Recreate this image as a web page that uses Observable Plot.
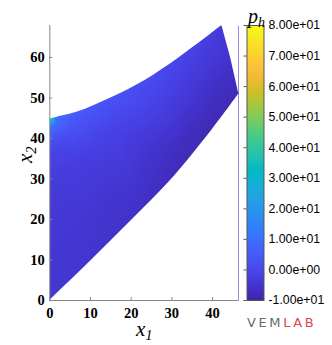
<!DOCTYPE html>
<html>
<head>
<meta charset="utf-8">
<script src="https://cdn.jsdelivr.net/npm/d3@7"></script>
<script src="https://cdn.jsdelivr.net/npm/@observablehq/plot@0.6"></script>
<style>
  html, body { margin: 0; padding: 0; background: #fff; }
  #wrap { position: relative; width: 332px; height: 345px; overflow: hidden; background: #fff; }
  #main { position: absolute; left: 0; top: 0; }
  #cbar { position: absolute; left: 240px; top: 0; }
  #logo { position: absolute; left: 247px; top: 316px; font: 13px "DejaVu Sans", "Liberation Sans", sans-serif; line-height: 13px; letter-spacing: 2.6px; white-space: nowrap; }
  #logo .g { color: #6a6a6a; }
  #logo .r { color: #e0464a; }
</style>
</head>
<body>
<div id="wrap">
  <div id="main"></div>
  <div id="cbar"></div>
  <div id="logo"><span class="g">VEM</span><span class="r">LAB</span></div>
</div>
<script>
// ---- Domain boundary ----
const topX = [0, 1.5, 7, 15, 23.5, 31.7, 38.3, 42.3];
const topY = [44.8, 45.2, 46.6, 50, 54.4, 59.9, 64.8, 67.9];
const rightX = [42.3, 44.5, 46.45];
const rightY = [67.9, 59.7, 51];
const bottomX = [0, 10, 20, 30, 40, 46.45];
const bottomY = [0, 9.7, 19.7, 30, 42.3, 51];

// ---- Field samples p_h ----
const sampleX = [0, 0, 0, 0, 0, 0, 0, 0, 1.5, 1.5, 7, 15, 23.5, 31.7, 38.3, 42.3, 44.5, 46.45,
                 10, 20, 30, 40, 8, 8, 15, 20, 28, 25, 35, 38, 40, 33, 5, 15, 22];
const sampleY = [0, 10, 20, 30, 37, 41, 43.5, 44.8, 45.2, 43.5, 46.6, 50, 54.4, 59.9, 64.8, 67.9, 59.7, 51,
                 9.7, 19.7, 30, 42.3, 20, 35, 42, 30, 45, 38, 50, 58, 50, 40, 42, 25, 48];
const sampleP = [-4.5, -4.5, -4, -3, -0.5, 5, 14, 42, 10, 9, 5, 3, 1.5, -0.5, -2, -3.5, -5.5, -8,
                 -5, -6, -7.5, -8.5, -4.5, -2.5, -1, -4.5, -3, -5, -4.5, -3.5, -7, -7, 2.5, -5, 0];

const xTicks = [0, 10, 20, 30, 40];
const yTicks = [0, 10, 20, 30, 40, 50, 60];
const cbTicks = [-10, 0, 10, 20, 30, 40, 50, 60, 70, 80];
const xDomain = [0, 46.45];
const yDomain = [0, 67.9];
const pDomain = [-10, 80];

// parula colormap stops
const PARULA = ["#3e26a8","#4332cb","#4741e5","#4852f4","#4563fd","#3875fe","#2e87f7","#2797eb",
  "#20a5e3","#12b1d6","#02bac3","#24c1ae","#37c897","#57cc7a","#81cc59","#abc739","#d1bf27",
  "#f0ba36","#fec338","#fad62d","#f5e924","#f9fb15"];
const colorScale = {type: "linear", domain: pDomain, interpolate: d3.piecewise(d3.interpolateRgb, PARULA), clamp: true};

const samples = sampleX.map((x, i) => ({x, y: sampleY[i], p: sampleP[i]}));
const topRows = topX.map((x, i) => ({x, y: topY[i]}));
const rightRows = rightX.map((x, i) => ({x, y: rightY[i]}));
const bottomRows = bottomX.map((x, i) => ({x, y: bottomY[i]}));

const serif = "'Liberation Serif', 'Times New Roman', 'DejaVu Serif', serif";

const main = Plot.plot({
  width: 240, height: 345,
  marginLeft: 49.3, marginRight: 1.7, marginTop: 25, marginBottom: 45,
  x: {domain: xDomain, label: null},
  y: {domain: yDomain, label: null},
  color: colorScale,
  style: {fontFamily: serif, fontWeight: "bold", fontSize: "14.5px", color: "black", background: "white"},
  marks: [
    Plot.raster(samples, {x: "x", y: "y", fill: "p", interpolate: "barycentric", pixelSize: 1}),
    Plot.areaY(topRows, {x: "x", y1: "y", y2: yDomain[1], fill: "white", curve: "catmull-rom"}),
    Plot.areaY(rightRows, {x: "x", y1: "y", y2: yDomain[1], fill: "white"}),
    Plot.areaY(bottomRows, {x: "x", y1: 0, y2: "y", fill: "white", curve: "catmull-rom"}),
    Plot.ruleX([0], {stroke: "#888"}),
    Plot.ruleY([0], {stroke: "#888"}),
    Plot.axisX({ticks: xTicks, tickSize: 3, dy: -3, tickPadding: 7, label: null}),
    Plot.axisY({ticks: yTicks, tickSize: 3, dx: 3, tickPadding: 5, label: null}),
    Plot.text(["x1"], {text: d => d, frameAnchor: "bottom", dy: 35, fontSize: 21, fontStyle: "italic", fontWeight: "normal", fontFamily: serif}),
    Plot.text(["x2"], {text: d => d, frameAnchor: "left", dx: -25, rotate: -90, fontSize: 21, fontStyle: "italic", fontWeight: "normal", fontFamily: serif})
  ]
});

const fmt = d => d.toExponential(2).replace(/e([+-])(\d)$/, (m, s, g) => "e" + s + "0" + g);

const cbar = Plot.plot({
  width: 92, height: 345,
  marginLeft: 6.5, marginRight: 68.5, marginTop: 25, marginBottom: 45,
  x: {domain: [0, 1], axis: null},
  y: {domain: pDomain, label: null},
  color: colorScale,
  style: {fontFamily: "'Liberation Sans', Arial, sans-serif", fontSize: "12.3px", color: "black", background: "white"},
  marks: [
    Plot.raster({fill: (x, y) => y, x1: 0, x2: 1, y1: pDomain[0], y2: pDomain[1], pixelSize: 1}),
    Plot.frame({stroke: "#555"}),
    Plot.axisY({anchor: "right", ticks: cbTicks, tickSize: 0, tickPadding: 4.5, tickFormat: fmt, label: null}),
    Plot.axisY({anchor: "left", ticks: cbTicks, tickSize: 3, tickFormat: () => "", label: null}),
    Plot.text(["ph"], {text: d => d, frameAnchor: "top-left", dy: -17, dx: 1, textAnchor: "start", fontFamily: serif, fontStyle: "italic", fontSize: 20})
  ]
});

document.getElementById("main").appendChild(main);
document.getElementById("cbar").appendChild(cbar);

// gray tick marks
for (const g of main.querySelectorAll('g[aria-label="x-axis tick"], g[aria-label="y-axis tick"]')) g.setAttribute("stroke", "#888");
for (const g of cbar.querySelectorAll('g[aria-label="y-axis tick"]')) g.setAttribute("stroke", "#555");

// subscripts
const NS = "http://www.w3.org/2000/svg";
function subscript(svg, full, base, sub) {
  for (const t of svg.querySelectorAll("text")) {
    if (t.textContent === full && t.childElementCount === 0) {
      t.textContent = base;
      const ts = document.createElementNS(NS, "tspan");
      ts.setAttribute("font-size", "0.7em");
      ts.setAttribute("dy", "0.3em");
      ts.textContent = sub;
      t.appendChild(ts);
    }
  }
}
subscript(main, "x1", "x", "1");
subscript(main, "x2", "x", "2");
subscript(cbar, "ph", "p", "h");
</script>
</body>
</html>
